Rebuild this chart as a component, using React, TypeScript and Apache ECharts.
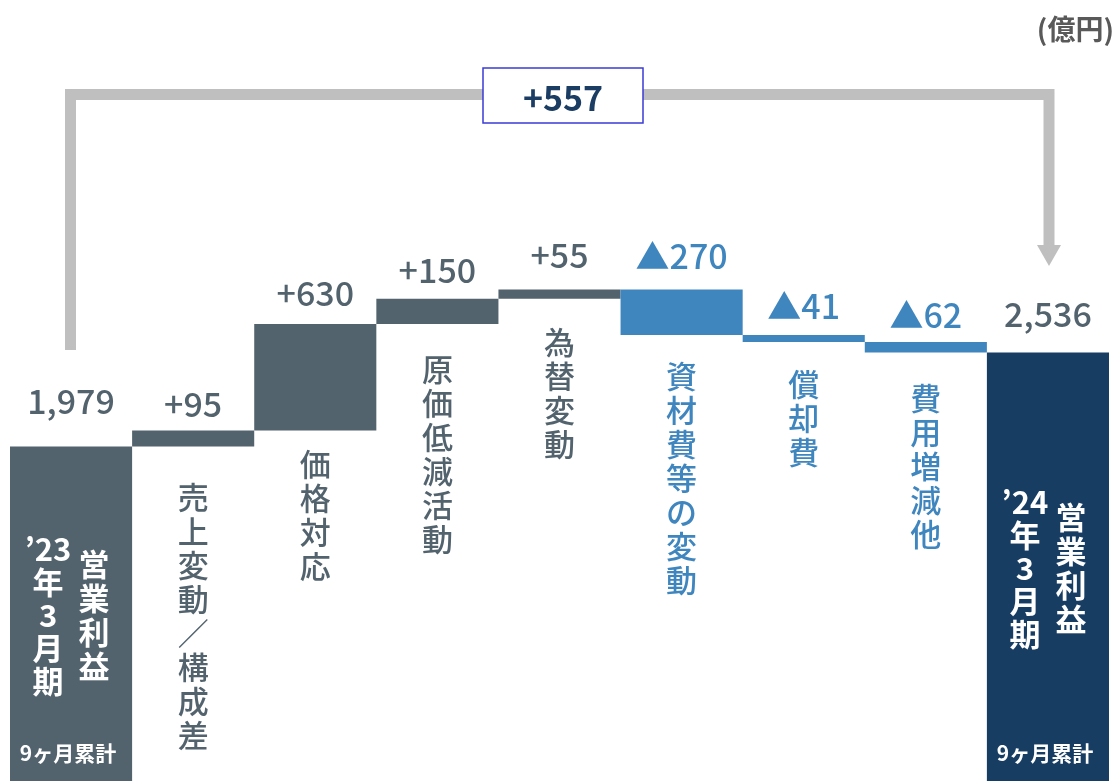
import React, { useEffect, useRef } from "react";
import * as echarts from "echarts";

// ---- data ----
const categoryNames = [
  "営業利益",
  "売上変動／構成差",
  "価格対応",
  "原価低減活動",
  "為替変動",
  "資材費等の変動",
  "償却費",
  "費用増減他",
  "営業利益",
];
const periodLines = [
  ["’23", "年", "3", "月", "期"],
  ["’24", "年", "3", "月", "期"],
];
const cumulativeNote = "9ヶ月累計";
const deltas = [1979, 95, 630, 150, 55, -270, -41, -62, 2536];
const totalChange = "+557";
const unitLabel = "(億円)";

// ---- styles ----
const CJK = '"Noto Sans CJK JP", "Noto Sans", sans-serif';
const GRAY = "#53636e";
const BLUE = "#3f86bf";
const NAVY = "#173d63";
const valueGap = [29, 10, 15, 12, 18, 17, 13, 10, 22];
const nameGap = [0, 32, 15, 26, 25, 22, 24, 27, 0];

export default function App() {
  const ref = useRef<HTMLDivElement>(null);

  useEffect(() => {
    const chart = echarts.init(ref.current!, null, { renderer: "svg" });
    const last = deltas.length - 1;
    const base: number[] = [];
    const shown: number[] = [];
    let running = 0;
    deltas.forEach((d, i) => {
      if (i === 0 || i === last) {
        base.push(0);
        shown.push(d);
        running = d;
      } else if (d >= 0) {
        base.push(running);
        shown.push(d);
        running += d;
      } else {
        running += d;
        base.push(running);
        shown.push(-d);
      }
    });
    const isTotal = (i: number) => i === 0 || i === last;
    const barColor = (i: number) =>
      i === last ? NAVY : deltas[i] < 0 ? BLUE : GRAY;
    const textColor = (i: number) => (!isTotal(i) && deltas[i] < 0 ? BLUE : GRAY);
    const valueText = (i: number) => {
      const d = deltas[i];
      if (isTotal(i)) return d.toLocaleString("en-US");
      return d >= 0 ? "+" + d : "▲" + Math.abs(d);
    };

    const option: any = {
      animation: false,
      grid: { left: 10, right: 7, top: 105, bottom: -6.5 },
      xAxis: {
        type: "category",
        data: categoryNames.map((n, i) => i + ":" + n),
        show: false,
      },
      yAxis: { type: "value", min: 0, max: 4000, show: false },
      series: [
        {
          type: "bar",
          stack: "w",
          barCategoryGap: "0%",
          silent: true,
          itemStyle: { color: "rgba(0,0,0,0)" },
          data: base.map((v, i) => ({
            value: v,
            label: {
              show: !isTotal(i),
              position: "insideTop",
              distance: nameGap[i],
              formatter: categoryNames[i].split("").join("\n"),
              color: textColor(i),
              fontFamily: CJK,
              fontSize: 31,
              lineHeight: 34,
              fontWeight: 500,
            },
          })),
        },
        {
          type: "bar",
          stack: "w",
          barCategoryGap: "0%",
          data: shown.map((v, i) => ({
            value: v,
            itemStyle: { color: barColor(i) },
            label: {
              show: true,
              position: "top",
              distance: valueGap[i],
              formatter: valueText(i),
              color: textColor(i),
              fontFamily: CJK,
              fontSize: 34,
              lineHeight: 36,
              fontWeight: 500,
            },
          })),
        },
      ],
    };
    chart.setOption(option);

    const graphics: any[] = [];
    [0, last].forEach((idx, k) => {
      const top = chart.convertToPixel({ gridIndex: 0 }, [idx, shown[idx]]) as number[];
      const zero = chart.convertToPixel({ gridIndex: 0 }, [idx, 0]) as number[];
      const cx = top[0];
      const cy = (top[1] + zero[1]) / 2;
      graphics.push({
        type: "text",
        z: 100,
        x: cx - 23,
        y: cy,
        style: {
          text: periodLines[k].join("\n"),
          fill: "#ffffff",
          font: `bold 31px ${CJK}`,
          lineHeight: 33,
          align: "center",
          verticalAlign: "middle",
        },
      });
      graphics.push({
        type: "text",
        z: 100,
        x: cx + 23,
        y: cy,
        style: {
          text: categoryNames[idx].split("").join("\n"),
          fill: "#ffffff",
          font: `bold 31px ${CJK}`,
          lineHeight: 34,
          align: "center",
          verticalAlign: "middle",
        },
      });
      graphics.push({
        type: "text",
        z: 100,
        x: cx - 3,
        y: zero[1] - 29,
        style: {
          text: cumulativeNote,
          fill: "#ffffff",
          font: `bold 21px ${CJK}`,
          align: "center",
          verticalAlign: "middle",
        },
      });
    });

    // bracket with arrow
    graphics.push({
      type: "polyline",
      z: 50,
      shape: {
        points: [
          [70.5, 350],
          [70.5, 94.5],
          [1049, 94.5],
          [1049, 248],
        ],
      },
      style: { stroke: "#bfbfbf", lineWidth: 11, fill: null, lineJoin: "miter", lineCap: "butt" },
    });
    graphics.push({
      type: "polygon",
      z: 50,
      shape: {
        points: [
          [1037, 245],
          [1061, 245],
          [1049, 266],
        ],
      },
      style: { fill: "#bfbfbf" },
    });
    graphics.push({
      type: "rect",
      z: 60,
      shape: { x: 483, y: 68, width: 160, height: 55 },
      style: { fill: "#ffffff", stroke: "#3b3bd6", lineWidth: 1.5 },
    });
    graphics.push({
      type: "text",
      z: 70,
      x: 563,
      y: 96,
      style: {
        text: totalChange,
        fill: "#1b3d63",
        font: `bold 34px ${CJK}`,
        align: "center",
        verticalAlign: "middle",
      },
    });
    graphics.push({
      type: "text",
      z: 70,
      x: 1114,
      y: 28,
      style: {
        text: unitLabel,
        fill: "#595959",
        font: `bold 28px ${CJK}`,
        align: "right",
        verticalAlign: "middle",
      },
    });
    chart.setOption({ graphic: graphics });

    return () => chart.dispose();
  }, []);

  return (
    <div
      ref={ref}
      style={{ position: "fixed", left: 0, top: 0, width: 1116, height: 781 }}
    />
  );
}
